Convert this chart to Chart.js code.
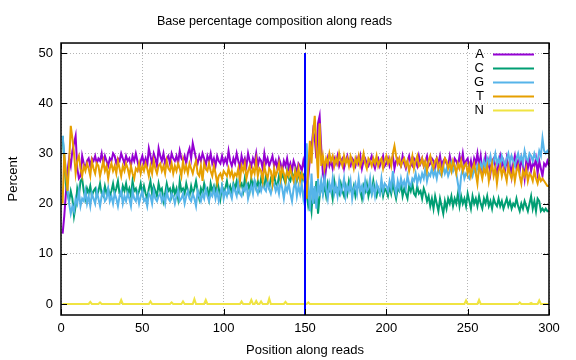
<!DOCTYPE html>
<html>
<head>
<meta charset="utf-8">
<script src="https://cdn.jsdelivr.net/npm/chart.js@4"></script>
<style>
  html, body { margin: 0; padding: 0; background: #fff; }
  #wrap { width: 576px; height: 360px; }
</style>
</head>
<body>
<div id="wrap"><canvas id="chart" width="576" height="360"></canvas></div>
<script>
// positions along the read (1..300)
const positions = [];
for (let i = 1; i <= 300; i++) positions.push(i);

const xTicks = [0, 50, 100, 150, 200, 250, 300];
const yTicks = [0, 10, 20, 30, 40, 50];
const readBoundary = 150;

const baseA = [
  14.0, 17.5, 22.0, 26.5, 29.0, 27.5, 30.5, 32.0, 33.5, 27.0,
  25.0, 25.5, 29.5, 28.0, 27.0, 28.5, 29.0, 27.5, 29.0, 28.5,
  29.5, 28.0, 29.0, 28.5, 30.0, 28.0, 29.5, 28.5, 27.5, 29.0,
  28.5, 30.0, 29.5, 28.0, 29.0, 28.5, 30.0, 29.0, 28.0, 29.5,
  28.5, 29.0, 27.5, 29.5, 28.5, 30.0, 28.5, 27.0, 28.5, 29.5,
  28.0, 29.0, 27.5, 31.0, 29.5, 28.0, 30.0, 29.0, 27.5, 31.0,
  29.5, 28.5, 30.0, 28.0, 29.0, 29.5, 28.0, 30.0, 29.0, 28.5,
  29.5, 28.0, 30.5, 29.0, 28.5, 29.5, 28.0, 30.0, 31.0, 29.0,
  32.0, 30.5, 29.0, 28.0, 29.5, 28.5, 30.0, 29.0, 27.5, 29.5,
  28.5, 30.0, 28.0, 29.0, 27.5, 29.5, 28.5, 28.0, 29.5, 28.0,
  29.0, 28.0, 30.5, 28.5, 27.5, 29.0, 28.0, 30.0, 28.5, 27.0,
  29.5, 28.0, 29.0, 27.5, 30.0, 28.5, 27.5, 29.0, 28.0, 30.0,
  27.5, 29.0, 28.5, 27.0, 30.0, 28.0, 29.0, 27.5, 28.5, 29.5,
  27.5, 28.5, 27.0, 29.0, 28.0, 26.5, 28.5, 27.5, 29.0, 27.0,
  28.0, 26.5, 28.5, 27.5, 26.0, 28.0, 27.5, 26.5, 28.5, 27.0,
  22.0, 25.0, 29.0, 31.0, 34.5, 33.0, 29.0, 36.0, 37.5, 31.0,
  26.0, 24.5, 27.0, 29.0, 27.5, 28.5, 27.0, 29.0, 28.0, 29.5,
  27.5, 28.5, 29.0, 27.0, 28.5, 29.5, 28.0, 27.5, 29.0, 28.5,
  27.5, 29.0, 28.0, 29.5, 27.0, 28.5, 29.0, 28.0, 27.5, 28.5,
  29.5, 28.0, 27.0, 28.5, 29.0, 27.5, 28.5, 29.5, 27.5, 28.0,
  29.0, 27.5, 28.5, 29.5, 27.0, 28.5, 29.0, 28.0, 27.5, 29.5,
  28.0, 27.0, 28.5, 29.5, 28.0, 27.5, 29.0, 28.5, 27.5, 29.5,
  28.0, 29.0, 27.5, 28.5, 29.5, 27.5, 28.0, 29.0, 28.5, 27.0,
  29.0, 28.0, 29.5, 27.5, 28.5, 29.0, 28.0, 27.5, 29.5, 28.0,
  27.0, 29.0, 28.5, 27.5, 29.5, 28.0, 30.0, 27.5, 28.5, 29.0,
  27.0, 28.5, 26.5, 29.0, 28.0, 30.0, 27.5, 29.5, 26.5, 28.0,
  29.5, 27.0, 28.5, 26.0, 28.5, 29.0, 27.5, 25.5, 28.0, 29.5,
  27.5, 28.5, 26.5, 29.0, 27.0, 28.5, 25.5, 28.0, 29.5, 27.0,
  28.5, 26.5, 29.0, 27.5, 25.0, 28.5, 27.0, 29.0, 26.5, 28.0,
  27.5, 29.0, 26.0, 28.5, 27.0, 25.5, 28.0, 27.5, 28.5, 27.5
];

const baseC = [
  33.5, 28.5, 24.0, 22.0, 20.5, 22.5, 21.0, 17.5, 19.5, 23.0,
  21.5, 24.5, 25.0, 22.5, 21.0, 23.0, 22.0, 23.5, 21.5, 22.5,
  23.0, 21.5, 22.5, 24.0, 22.0, 21.5, 23.5, 22.0, 23.0, 21.5,
  22.5, 24.0, 22.0, 23.0, 24.5, 22.0, 21.5, 23.5, 22.5, 24.0,
  22.0, 23.0, 21.5, 24.5, 22.5, 23.0, 21.5, 22.5, 24.0, 22.0,
  23.5, 22.0, 21.0, 23.0, 24.5, 22.0, 23.5, 22.5, 21.5, 24.0,
  22.5, 23.0, 20.5, 22.0, 24.0, 22.5, 23.0, 21.5, 23.5, 22.0,
  23.0, 21.0, 24.5, 22.5, 23.0, 22.0, 24.0, 22.5, 21.5, 23.5,
  22.0, 23.0, 24.5, 22.5, 21.0, 23.0, 22.0, 24.0, 22.5, 23.0,
  21.0, 24.0, 22.5, 23.5, 22.0, 24.5, 23.0, 21.0, 23.5, 22.5,
  23.0, 24.5, 22.5, 23.5, 22.0, 24.0, 23.0, 24.5, 22.5, 23.5,
  24.0, 22.5, 25.0, 23.5, 24.0, 22.5, 25.0, 23.5, 24.5, 23.0,
  24.5, 23.0, 25.0, 24.0, 23.5, 25.5, 24.0, 23.0, 25.0, 24.5,
  25.5, 24.0, 23.5, 25.5, 24.5, 26.0, 25.0, 24.0, 26.5, 25.0,
  24.5, 26.0, 25.0, 26.5, 24.5, 25.5, 26.0, 24.5, 25.5, 24.0,
  22.0, 19.5, 21.0, 18.5, 23.0, 20.0, 24.5, 18.0, 21.5, 24.0,
  22.0, 23.5, 21.5, 24.0, 22.5, 23.0, 21.0, 24.5, 22.5, 23.0,
  22.0, 24.0, 22.5, 21.5, 23.5, 22.0, 24.5, 23.0, 22.0, 23.5,
  21.5, 23.0, 24.0, 22.5, 21.0, 23.5, 22.5, 24.0, 21.5, 23.0,
  22.0, 24.5, 22.5, 21.5, 23.0, 22.0, 23.5, 21.5, 23.0, 22.5,
  21.5, 23.5, 22.0, 24.0, 22.5, 21.0, 23.0, 22.5, 24.0, 21.5,
  23.0, 22.0, 21.0, 23.5, 22.5, 24.0, 22.0, 21.5, 23.5, 22.0,
  22.5, 21.0, 23.0, 22.0, 20.5, 21.5, 19.5, 21.0, 19.0, 21.5,
  20.0, 18.5, 21.0, 19.5, 18.0, 20.5, 19.0, 21.0, 20.0, 21.5,
  19.5, 21.0, 20.0, 22.0, 19.5, 21.5, 20.0, 21.0, 19.5, 22.0,
  20.5, 19.0, 21.5, 20.0, 21.0, 19.5, 21.5, 20.0, 19.0, 21.0,
  20.0, 21.5, 19.5, 20.5, 19.0, 21.0, 20.0, 19.5, 21.0, 19.5,
  20.5, 19.0, 20.0, 21.0, 19.5, 20.5, 19.0, 20.0, 19.5, 21.0,
  19.5, 18.5, 20.0, 19.0, 20.5, 19.5, 18.5, 20.0, 21.5, 19.0,
  20.5, 18.5, 21.0, 20.5, 18.5, 19.0, 18.5, 19.0, 18.5, 18.5
];

const baseG = [
  33.5, 30.0, 26.5, 23.0, 20.0, 18.0, 19.5, 18.5, 21.0, 20.0,
  22.5, 19.5, 21.0, 20.5, 22.5, 20.0, 21.5, 19.5, 22.0, 21.0,
  20.0, 22.5, 21.0, 19.5, 21.5, 22.5, 20.5, 21.0, 23.0, 20.5,
  21.5, 20.0, 22.0, 21.0, 19.5, 21.5, 22.5, 20.0, 21.5, 20.5,
  22.0, 21.0, 19.5, 22.5, 21.0, 20.5, 22.0, 20.0, 21.5, 22.5,
  20.5, 21.0, 19.5, 22.0, 21.5, 20.0, 22.5, 21.0, 20.5, 21.5,
  22.0, 20.5, 21.5, 20.0, 22.5, 21.0, 20.5, 22.0, 21.5, 20.0,
  21.5, 22.5, 20.5, 21.0, 22.0, 20.0, 21.5, 22.5, 21.0, 20.5,
  22.0, 21.0, 19.5, 22.5, 21.5, 20.5, 22.0, 21.0, 23.0, 21.5,
  20.5, 22.0, 21.5, 23.0, 21.0, 22.5, 20.5, 22.0, 23.5, 21.0,
  22.5, 21.5, 23.0, 22.0, 21.0, 23.5, 22.5, 21.5, 24.0, 22.0,
  21.5, 23.0, 22.5, 24.0, 21.0, 22.5, 23.5, 22.0, 24.5, 23.0,
  22.0, 23.5, 22.5, 24.0, 23.0, 22.5, 24.5, 23.0, 22.0, 23.5,
  24.0, 22.5, 23.5, 22.0, 24.5, 23.0, 21.0, 23.5, 22.5, 24.0,
  22.0, 20.5, 23.0, 24.5, 21.5, 23.5, 22.0, 24.0, 21.0, 23.0,
  32.0, 24.0, 18.5, 26.0, 20.0, 23.5, 19.0, 25.0, 21.5, 24.5,
  22.0, 25.5, 23.0, 21.0, 24.0, 22.5, 25.0, 22.0, 23.5, 21.5,
  24.5, 22.0, 23.0, 25.0, 21.5, 23.5, 22.5, 24.5, 21.0, 23.0,
  24.0, 22.0, 25.0, 22.5, 23.5, 21.5, 24.5, 22.5, 23.0, 25.0,
  22.0, 23.5, 21.5, 24.0, 23.0, 22.0, 25.0, 22.5, 24.0, 23.5,
  22.5, 24.5, 23.0, 26.5, 23.5, 22.0, 24.5, 23.0, 25.0, 23.5,
  24.5, 23.0, 25.5, 24.0, 23.5, 25.0, 24.5, 26.0, 24.0, 25.5,
  24.5, 26.0, 25.0, 27.0, 24.5, 26.0, 25.5, 27.0, 25.5, 26.5,
  25.0, 27.0, 26.0, 25.5, 27.5, 26.0, 27.0, 25.5, 26.5, 28.0,
  26.5, 27.5, 26.0, 24.0, 22.0, 25.5, 27.0, 25.0, 26.0, 25.5,
  25.0, 26.5, 25.5, 27.0, 26.0, 27.5, 26.5, 28.0, 27.0, 28.5,
  27.0, 29.0, 28.0, 29.5, 27.5, 28.5, 30.0, 28.0, 29.0, 27.5,
  29.5, 28.5, 27.5, 29.0, 30.0, 28.0, 29.5, 28.5, 27.5, 29.0,
  30.0, 28.5, 29.5, 28.0, 30.5, 29.0, 28.5, 30.0, 29.5, 28.5,
  30.0, 29.0, 28.5, 30.5, 29.5, 33.0, 30.5, 30.0, 30.5, 30.0
];

const baseT = [
  20.0, 30.0, 26.0, 22.5, 28.0, 35.5, 33.0, 30.0, 26.0, 28.5,
  29.5, 27.0, 25.5, 27.5, 26.5, 28.0, 27.0, 25.5, 28.5, 27.0,
  26.0, 28.0, 27.5, 25.5, 27.0, 28.5, 26.5, 27.5, 25.0, 27.0,
  28.0, 26.5, 27.5, 26.0, 28.5, 27.0, 25.5, 27.5, 26.5, 28.0,
  27.0, 25.5, 27.5, 26.0, 25.0, 27.0, 26.5, 28.0, 26.0, 27.5,
  26.5, 28.0, 27.0, 25.5, 27.5, 26.0, 28.5, 27.0, 26.0, 27.5,
  28.0, 26.5, 27.5, 26.0, 28.5, 27.0, 26.5, 28.0, 26.0, 27.5,
  26.5, 28.0, 27.0, 25.5, 28.5, 26.5, 27.5, 26.0, 28.0, 27.0,
  26.0, 27.5, 28.5, 26.0, 25.5, 27.5, 24.5, 28.0, 27.0, 26.5,
  28.0, 26.5, 25.5, 27.5, 26.0, 24.0, 25.5, 26.0, 25.0, 26.5,
  26.0, 25.5, 27.0, 25.5, 26.5, 25.0, 26.0, 25.5, 27.0, 24.5,
  27.5, 26.5, 28.0, 25.0, 26.5, 27.5, 25.5, 27.0, 26.0, 28.5,
  25.5, 27.0, 26.5, 24.5, 27.5, 26.0, 25.0, 27.0, 26.5, 24.0,
  27.0, 25.5, 26.5, 28.0, 25.0, 27.0, 26.0, 24.5, 26.5, 25.5,
  27.0, 25.5, 24.5, 26.5, 25.0, 27.0, 24.5, 26.0, 25.0, 24.5,
  21.0, 27.0, 32.5, 28.0, 34.0, 37.5, 31.0, 25.0, 36.0, 27.5,
  29.5, 27.0, 29.0, 28.0, 30.0, 28.5, 29.5, 27.5, 29.0, 28.0,
  30.0, 28.5, 27.5, 29.5, 28.0, 29.0, 27.5, 29.5, 28.5, 27.0,
  29.0, 28.0, 29.5, 27.5, 28.5, 30.0, 28.0, 27.0, 29.0, 28.5,
  27.5, 29.0, 28.0, 29.5, 27.5, 28.5, 29.0, 27.0, 28.5, 29.5,
  28.0, 29.0, 27.5, 30.0, 31.5, 29.5, 28.0, 29.0, 27.5, 28.5,
  29.0, 27.5, 28.5, 26.5, 28.0, 29.5, 27.0, 28.5, 29.5, 27.5,
  28.0, 29.0, 27.5, 28.5, 26.5, 28.5, 29.5, 28.0, 27.0, 28.5,
  29.0, 27.0, 28.0, 26.0, 27.5, 29.0, 28.5, 27.0, 28.0, 26.5,
  28.5, 27.5, 26.0, 28.0, 27.0, 28.5, 26.5, 27.5, 28.0, 26.0,
  27.5, 25.5, 27.0, 28.0, 26.0, 24.0, 27.5, 26.5, 25.0, 27.0,
  26.0, 27.5, 24.5, 26.5, 28.0, 25.5, 27.0, 24.0, 26.5, 27.5,
  25.5, 27.0, 26.0, 24.5, 27.5, 26.0, 25.0, 27.0, 24.5, 26.5,
  27.5, 25.5, 24.0, 26.5, 25.5, 27.0, 24.5, 26.0, 25.5, 24.5,
  26.5, 25.0, 24.0, 25.5, 24.5, 25.0, 24.5, 24.0, 23.5, 23.5
];

const baseN = [
  0, 0, 0, 0, 0, 0, 0, 0, 0, 0, 0, 0, 0, 0, 0, 0, 0, 0.4, 0, 0,
  0, 0, 0, 0.3, 0, 0, 0, 0, 0, 0, 0, 0, 0, 0, 0, 0, 0.8, 0, 0, 0,
  0, 0, 0, 0, 0, 0, 0, 0, 0, 0, 0, 0, 0, 0, 0.5, 0, 0, 0, 0, 0,
  0, 0, 0, 0, 0, 0, 0, 0.3, 0, 0, 0, 0, 0, 0, 0.5, 0, 0, 0, 0, 0,
  0, 1.0, 0, 0, 0, 0, 0, 0, 0.8, 0, 0, 0, 0, 0, 0, 0, 0, 0, 0, 0,
  0, 0, 0, 0, 0, 0, 0, 0, 0, 0, 0.5, 0, 0, 0, 0, 0, 0.8, 0, 0, 0.6,
  0, 0, 0.5, 0, 0, 0, 0, 1.1, 0, 0, 0, 0, 0, 0, 0, 0, 0, 0.4, 0, 0,
  0, 0, 0, 0, 0, 0, 0, 0, 0, 0, 0, 0.3, 0, 0, 0, 0, 0, 0, 0, 0,
  0, 0, 0, 0, 0, 0, 0, 0, 0, 0, 0, 0, 0, 0, 0, 0, 0, 0, 0, 0,
  0, 0, 0, 0, 0, 0, 0, 0, 0, 0, 0, 0, 0, 0, 0, 0, 0, 0, 0, 0,
  0, 0, 0, 0, 0, 0, 0, 0, 0, 0, 0, 0, 0, 0, 0, 0, 0, 0, 0, 0,
  0, 0, 0, 0, 0, 0, 0, 0, 0, 0, 0, 0, 0, 0, 0, 0, 0, 0, 0, 0,
  0, 0, 0, 0, 0, 0, 0, 0, 0.7, 0, 0, 0, 0, 0, 0, 0, 0.8, 0, 0, 0,
  0, 0, 0, 0, 0, 0, 0, 0, 0, 0, 0, 0, 0, 0, 0, 0, 0, 0, 0, 0,
  0, 0.3, 0, 0, 0, 0, 0, 0, 0.2, 0, 0, 0, 0, 0.7, 0, 0, 0, 0, 0, 0
];

const toXY = vals => vals.map((v, i) => ({ x: positions[i], y: v }));

function series(label, vals, color, order) {
  return {
    label, data: toXY(vals), borderColor: color, backgroundColor: color,
    borderWidth: 2, pointRadius: 0, tension: 0, order
  };
}

const Y_MIN = -2.2, Y_MAX = 52;

// gnuplot-style frame with inward, mirrored tics + in-plot key
const framePlugin = {
  id: 'frame',
  afterDraw(chart) {
    const { ctx, chartArea: a, scales } = chart;
    ctx.save();
    ctx.strokeStyle = '#000';
    ctx.lineWidth = 1;
    const tl = 6;
    ctx.beginPath();
    xTicks.forEach(v => {
      const px = Math.round(scales.x.getPixelForValue(v)) + 0.5;
      ctx.moveTo(px, a.bottom); ctx.lineTo(px, a.bottom - tl);
      ctx.moveTo(px, a.top); ctx.lineTo(px, a.top + tl);
    });
    yTicks.forEach(v => {
      const py = Math.round(scales.y.getPixelForValue(v)) + 0.5;
      ctx.moveTo(a.left, py); ctx.lineTo(a.left + tl, py);
      ctx.moveTo(a.right, py); ctx.lineTo(a.right - tl, py);
    });
    ctx.stroke();
    ctx.lineWidth = 1.5;
    ctx.strokeRect(a.left, a.top, a.right - a.left, a.bottom - a.top);

    // key
    ctx.font = '13px "Liberation Sans", Arial, sans-serif';
    ctx.textAlign = 'right';
    ctx.textBaseline = 'middle';
    let row = 0;
    chart.data.datasets.forEach(ds => {
      if (!ds.label) return;
      const y = 54.5 + row * 14;
      ctx.fillStyle = '#000';
      ctx.fillText(ds.label, 484, y);
      ctx.strokeStyle = ds.borderColor;
      ctx.lineWidth = 2;
      ctx.beginPath();
      ctx.moveTo(493, y); ctx.lineTo(534, y);
      ctx.stroke();
      row++;
    });
    ctx.restore();
  }
};

const font = { family: '"Liberation Sans", Arial, sans-serif', size: 13 };

new Chart(document.getElementById('chart'), {
  type: 'line',
  data: {
    datasets: [
      series('A', baseA, '#9400d3', 5),
      series('C', baseC, '#009e73', 4),
      series('G', baseG, '#56b4e9', 3),
      series('T', baseT, '#e69f00', 2),
      series('N', baseN, '#f0e442', 1),
      {
        label: '', data: [{ x: readBoundary, y: Y_MIN }, { x: readBoundary, y: 50 }],
        borderColor: '#0000ff', borderWidth: 2, pointRadius: 0, order: 0
      }
    ]
  },
  options: {
    responsive: false,
    animation: false,
    layout: { padding: { left: 0, right: 27, top: 0, bottom: 0 } },
    plugins: {
      legend: { display: false },
      tooltip: { enabled: false },
      title: {
        display: true,
        text: 'Base percentage composition along reads',
        color: '#000',
        font: { ...font, size: 12.6, weight: 'normal' },
        padding: { top: 13.5, bottom: 14.4 }
      }
    },
    scales: {
      x: {
        type: 'linear',
        min: 0, max: 300,
        afterFit: s => { s.height = 45; },
        afterBuildTicks: s => { s.ticks = xTicks.map(v => ({ value: v })); },
        ticks: { color: '#000', font, padding: 6, maxRotation: 0 },
        grid: { color: '#b4b4b4', drawTicks: false, lineWidth: 1 },
        border: { display: false, dash: [1, 2] },
        title: {
          display: true, text: 'Position along reads', color: '#000', font,
          padding: { top: 0, bottom: 2 }
        }
      },
      y: {
        min: Y_MIN, max: Y_MAX,
        afterFit: s => { s.width = 61; },
        afterBuildTicks: s => { s.ticks = yTicks.map(v => ({ value: v })); },
        ticks: { color: '#000', font, padding: 8 },
        grid: { color: '#b4b4b4', drawTicks: false, lineWidth: 1 },
        border: { display: false, dash: [1, 2] },
        title: {
          display: true, text: 'Percent', color: '#000', font,
          padding: { top: 6, bottom: 0 }
        }
      }
    }
  },
  plugins: [framePlugin]
});
</script>
</body>
</html>
